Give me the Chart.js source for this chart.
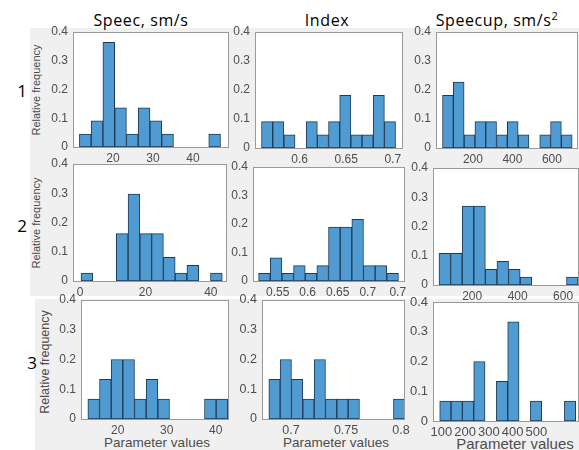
<!DOCTYPE html>
<html><head><meta charset="utf-8">
<script src="https://cdn.jsdelivr.net/npm/chart.js@4/dist/chart.umd.min.js"></script>
<style>
html,body{margin:0;padding:0;background:#fff;width:579px;height:450px;overflow:hidden;position:relative;font-family:"Liberation Sans",Arial,sans-serif;}
.bg{position:absolute;background:#f0f0f0;}
.cv{position:absolute;}
.t{position:absolute;white-space:nowrap;transform:translate(-50%,-50%);line-height:1;}
.title{font-family:"Open Sans",sans-serif;font-size:16px;color:#000;letter-spacing:0.6px;}
.row{font-family:"Open Sans",sans-serif;font-size:17px;color:#000;}
.yl{color:#4d4d4d;transform:translate(-50%,-50%) rotate(-90deg);}
.xl{color:#4d4d4d;}
sup{font-size:11px;line-height:0;vertical-align:6px;}
</style></head><body>
<div class="bg" style="left:30px;top:28px;width:549px;height:268px"></div>
<div class="bg" style="left:35px;top:299px;width:544px;height:151px"></div>

<div class="t title" style="left:141px;top:20px">Speec, sm/s</div>
<div class="t title" style="left:327px;top:20px">Index</div>
<div class="t title" style="left:497px;top:20px">Speecup, sm/s<sup>2</sup></div>

<div class="t row" style="left:22px;top:90px">1</div>
<div class="t row" style="left:22px;top:225px">2</div>
<div class="t row" style="left:32px;top:362px">3</div>

<div class="t yl" style="left:36px;top:90px;font-size:11px">Relative frequency</div>
<div class="t yl" style="left:36px;top:223px;font-size:11px">Relative frequency</div>
<div class="t yl" style="left:45px;top:362px;font-size:12.5px">Relative frequency</div>

<div class="t xl" style="left:157px;top:443px;font-size:13.5px">Parameter values</div>
<div class="t xl" style="left:336px;top:443px;font-size:13.5px">Parameter values</div>
<div class="t xl" style="left:515px;top:443px;font-size:15px">Parameter values</div>

<script>
// ---------- data ----------
// Row 1
const speedEdgesA   = [11.60, 14.54, 17.48, 20.42, 23.36, 26.30, 29.24, 32.18, 35.12, 38.06, 41.00, 43.94, 46.88];
const speedFreqA    = [0.045, 0.091, 0.364, 0.136, 0.045, 0.136, 0.091, 0.045, 0, 0, 0, 0.045];
const indexEdgesA   = [0.559, 0.571, 0.583, 0.595, 0.607, 0.619, 0.631, 0.643, 0.655, 0.667, 0.679, 0.691, 0.703];
const indexFreqA    = [0.091, 0.091, 0.045, 0, 0.091, 0.045, 0.091, 0.182, 0.045, 0.045, 0.182, 0.091];
const speedupEdgesA = [46.0, 100.7, 155.4, 210.1, 264.8, 319.5, 374.2, 428.9, 483.6, 538.3, 593.0, 647.7, 702.4];
const speedupFreqA  = [0.182, 0.227, 0.045, 0.091, 0.091, 0.045, 0.091, 0.045, 0, 0.045, 0.091, 0.045];
// Row 2
const speedEdgesB   = [0.3, 3.9, 7.5, 11.1, 14.7, 18.3, 21.9, 25.5, 29.1, 32.7, 36.3, 39.9, 43.5];
const speedFreqB    = [0.027, 0, 0, 0.162, 0.297, 0.162, 0.162, 0.081, 0.027, 0.054, 0, 0.027];
const indexEdgesB   = [0.5183, 0.5377, 0.5571, 0.5765, 0.5959, 0.6153, 0.6347, 0.6541, 0.6735, 0.6929, 0.7123, 0.7317, 0.7511];
const indexFreqB    = [0.027, 0.081, 0.027, 0.054, 0.027, 0.054, 0.189, 0.189, 0.216, 0.054, 0.054, 0.027];
const speedupEdgesB = [54, 105, 156, 207, 258, 309, 360, 411, 462, 513, 564, 615, 666];
const speedupFreqB  = [0.108, 0.108, 0.270, 0.270, 0.054, 0.081, 0.054, 0.027, 0, 0, 0, 0.027];
// Row 3
const speedEdgesC   = [13.90, 16.28, 18.66, 21.04, 23.42, 25.80, 28.18, 30.56, 32.94, 35.32, 37.70, 40.08, 42.46];
const speedFreqC    = [0.067, 0.133, 0.2, 0.2, 0.067, 0.133, 0.067, 0, 0, 0, 0.067, 0.067];
const indexEdgesC   = [0.6798, 0.6901, 0.7004, 0.7107, 0.7210, 0.7313, 0.7416, 0.7519, 0.7622, 0.7725, 0.7828, 0.7931, 0.8034];
const indexFreqC    = [0.133, 0.2, 0.133, 0.067, 0.2, 0.067, 0.067, 0.067, 0, 0, 0, 0.067];
const speedupEdgesC = [92.8, 140.5, 188.2, 235.9, 283.6, 331.3, 379.0, 426.7, 474.4, 522.1, 569.8, 617.5, 665.2];
const speedupFreqC  = [0.067, 0.067, 0.067, 0.2, 0, 0.133, 0.333, 0, 0.067, 0, 0, 0.067];

// tick values and labels
const yTicks = [0, 0.1, 0.2, 0.3, 0.4];
const yTickLabels = ['0', '0.1', '0.2', '0.3', '0.4'];
const speedTicksA = [20, 30, 40];          const speedTickLabelsA = ['20', '30', '40'];
const indexTicksA = [0.6, 0.65, 0.7];      const indexTickLabelsA = ['0.6', '0.65', '0.7'];
const speedupTicksA = [200, 400, 600];     const speedupTickLabelsA = ['200', '400', '600'];
const speedTicksB = [0, 20, 40];           const speedTickLabelsB = ['0', '20', '40'];
const indexTicksB = [0.55, 0.6, 0.65, 0.7, 0.75]; const indexTickLabelsB = ['0.55', '0.6', '0.65', '0.7', '0.7'];
const speedupTicksB = [200, 400, 600];     const speedupTickLabelsB = ['200', '400', '600'];
const speedTicksC = [20, 30, 40];          const speedTickLabelsC = ['20', '30', '40'];
const indexTicksC = [0.7, 0.75, 0.8];      const indexTickLabelsC = ['0.7', '0.75', '0.8'];
const speedupTicksC = [100, 200, 300, 400, 500]; const speedupTickLabelsC = ['100', '200', '300', '400', '500'];

// ---------- layout / style ----------
const BAR_FILL = '#4f9bd2';
const BAR_EDGE = '#1f3a56';
const TICK_COLOR = '#4d4d4d';
const FONT = '"Liberation Sans", Arial, sans-serif';
const Y_W = 34, X_H = 22, PT = 14;

const panels = [
  {edges: speedEdgesA,   freq: speedFreqA,   ticks: speedTicksA,   labels: speedTickLabelsA,   xMin: 10,     xMax: 49,     box: [73, 32, 229, 147],  fs: 12},
  {edges: indexEdgesA,   freq: indexFreqA,   ticks: indexTicksA,   labels: indexTickLabelsA,   xMin: 0.552,  xMax: 0.711,  box: [255, 32, 403, 148], fs: 12},
  {edges: speedupEdgesA, freq: speedupFreqA, ticks: speedupTicksA, labels: speedupTickLabelsA, xMin: 13,     xMax: 732,    box: [436, 32, 578, 148], fs: 12},
  {edges: speedEdgesB,   freq: speedFreqB,   ticks: speedTicksB,   labels: speedTickLabelsB,   xMin: -2.14,  xMax: 44.95,  box: [73, 164, 227, 281], fs: 12},
  {edges: indexEdgesB,   freq: indexFreqB,   ticks: indexTicksB,   labels: indexTickLabelsB,   xMin: 0.509,  xMax: 0.762,  box: [253, 167, 405, 281], fs: 12},
  {edges: speedupEdgesB, freq: speedupFreqB, ticks: speedupTicksB, labels: speedupTickLabelsB, xMin: 27.6,   xMax: 670,    box: [433, 168, 579, 285], fs: 12},
  {edges: speedEdgesC,   freq: speedFreqC,   ticks: speedTicksC,   labels: speedTickLabelsC,   xMin: 12.5,   xMax: 42.7,   box: [81, 300, 229, 419], fs: 12},
  {edges: indexEdgesC,   freq: indexFreqC,   ticks: indexTicksC,   labels: indexTickLabelsC,   xMin: 0.6736, xMax: 0.8036, box: [262, 300, 405, 419], fs: 12.5},
  {edges: speedupEdgesC, freq: speedupFreqC, ticks: speedupTicksC, labels: speedupTickLabelsC, xMin: 64.6,   xMax: 679,    box: [433, 302, 579, 421], fs: 13}
];

const boxPlugin = {
  id: 'box',
  beforeDraw(chart) {
    const a = chart.chartArea, ctx = chart.ctx;
    ctx.save();
    ctx.fillStyle = '#ffffff';
    ctx.fillRect(a.left, a.top, a.right - a.left, a.bottom - a.top);
    ctx.restore();
  },
  afterDraw(chart) {
    const a = chart.chartArea, ctx = chart.ctx;
    ctx.save();
    ctx.strokeStyle = '#9a9a9a';
    ctx.lineWidth = 1;
    ctx.strokeRect(Math.round(a.left) + 0.5, Math.round(a.top) + 0.5,
                   Math.round(a.right - a.left) - 1, Math.round(a.bottom - a.top));
    ctx.restore();
  }
};

panels.forEach(p => {
  const [L, T, R, B] = p.box;
  const PR = Math.min(14, 579 - R);
  const c = document.createElement('canvas');
  c.className = 'cv';
  c.width = R - L + Y_W + PR;
  c.height = B - T + PT + X_H;
  c.style.left = (L - Y_W) + 'px';
  c.style.top = (T - PT) + 'px';
  c.style.width = c.width + 'px';
  c.style.height = c.height + 'px';
  document.body.appendChild(c);
  const pts = p.freq.map((f, i) => ({x: (p.edges[i] + p.edges[i + 1]) / 2, y: f === 0 ? null : f}));
  new Chart(c, {
    type: 'bar',
    data: {datasets: [{data: pts, backgroundColor: BAR_FILL, borderColor: BAR_EDGE, borderWidth: 1,
                       borderSkipped: false, barPercentage: 1, categoryPercentage: 1}]},
    options: {
      responsive: false, animation: false, devicePixelRatio: 1,
      layout: {padding: {left: 0, top: PT, right: PR, bottom: 0}},
      plugins: {legend: {display: false}, tooltip: {enabled: false}},
      scales: {
        x: {
          type: 'linear', min: p.xMin, max: p.xMax, offset: false,
          grid: {display: false, drawTicks: false}, border: {display: false},
          afterBuildTicks: s => { s.ticks = p.ticks.map(v => ({value: v})); },
          afterFit: s => { s.height = X_H; },
          ticks: {autoSkip: false, maxRotation: 0, minRotation: 0, padding: 4, color: TICK_COLOR,
                  font: {size: p.fs, family: FONT}, callback: (v, i) => p.labels[i]}
        },
        y: {
          min: 0, max: 0.4,
          grid: {display: false, drawTicks: false}, border: {display: false},
          afterBuildTicks: s => { s.ticks = yTicks.map(v => ({value: v})); },
          afterFit: s => { s.width = Y_W; },
          ticks: {padding: 5, color: TICK_COLOR, font: {size: p.fs, family: FONT},
                  callback: (v, i) => yTickLabels[i]}
        }
      }
    },
    plugins: [boxPlugin]
  });
});
</script>
</body></html>
